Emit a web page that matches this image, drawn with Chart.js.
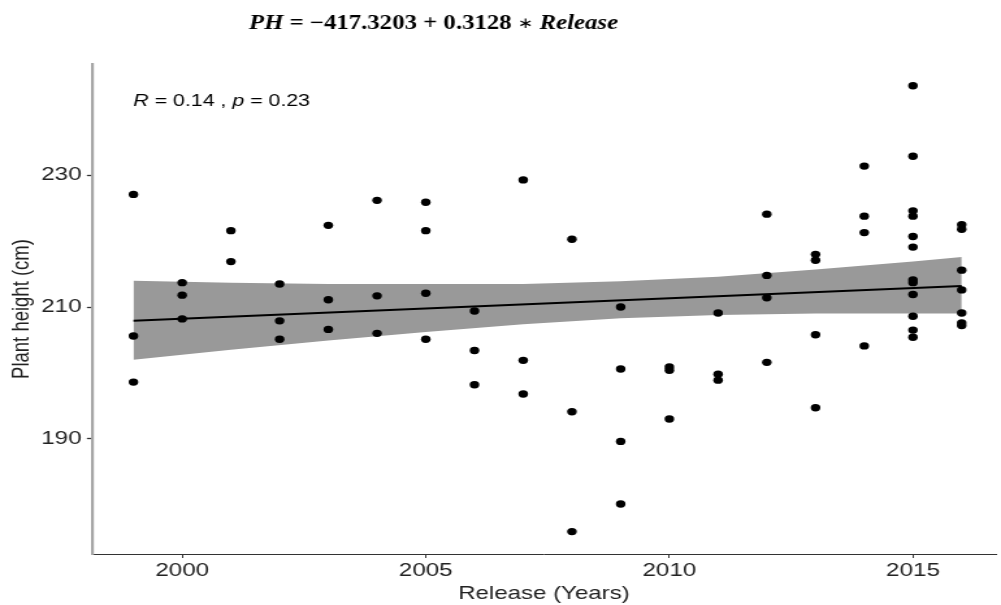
<!DOCTYPE html>
<html>
<head>
<meta charset="utf-8">
<script src="https://cdn.jsdelivr.net/npm/chart.js@4"></script>
<style>
html,body{margin:0;padding:0;background:#fff;overflow:hidden}
#c{display:block}
</style>
</head>
<body>
<canvas id="c" width="770" height="605" style="width:1001px;height:605px"></canvas>
<script>
// ---- data ----
const xTicks = [2000, 2005, 2010, 2015];
const yTicks = [190, 210, 230];

const releaseYears = [
  1999, 1999, 1999,
  2000, 2000, 2000,
  2001, 2001,
  2002, 2002, 2002,
  2003, 2003, 2003,
  2004, 2004, 2004,
  2005, 2005, 2005, 2005,
  2006, 2006, 2006,
  2007, 2007, 2007,
  2008, 2008, 2008,
  2009, 2009, 2009, 2009,
  2010, 2010, 2010,
  2011, 2011, 2011,
  2012, 2012, 2012, 2012,
  2013, 2013, 2013, 2013,
  2014, 2014, 2014, 2014,
  2015, 2015, 2015, 2015, 2015, 2015, 2015, 2015, 2015, 2015, 2015, 2015,
  2016, 2016, 2016, 2016, 2016, 2016, 2016
];
const plantHeights = [
  227.1, 205.6, 198.6,
  213.7, 211.8, 208.2,
  221.6, 216.9,
  213.5, 207.9, 205.1,
  222.4, 211.1, 206.6,
  226.2, 211.7, 206.0,
  225.9, 221.6, 212.1, 205.1,
  209.4, 203.4, 198.2,
  229.3, 201.9, 196.8,
  220.3, 194.1, 175.9,
  210.0, 200.6, 189.6, 180.1,
  200.9, 200.4, 193.0,
  209.1, 199.8, 198.9,
  224.1, 214.8, 211.4, 201.6,
  218.0, 217.1, 205.8, 194.7,
  231.4, 223.8, 221.3, 204.1,
  243.6, 232.9, 224.6, 223.8, 220.7, 219.1, 214.1, 213.7, 211.9, 208.6, 206.5, 205.4,
  222.5, 221.8, 215.6, 212.6, 209.1, 207.6, 207.2
];

const fitYears = [1999, 2016];
const fitHeights = [207.9, 213.2];

const bandYears = [1999, 2001, 2003, 2005, 2007, 2009, 2011, 2013, 2015, 2016];
const bandUpper = [214.0, 213.7, 213.5, 213.5, 213.5, 213.9, 214.6, 215.7, 216.9, 217.6];
const bandLower = [202.0, 203.5, 204.9, 206.2, 207.4, 208.3, 208.8, 209.0, 209.0, 209.0];

const equationRuns = [
  {text: 'PH', font: 'italic bold 20px "Liberation Serif"'},
  {text: ' = \u2212417.3203 + 0.3128 ', font: 'bold 20px "Liberation Serif"'},
  {text: '\u2217', font: '15px "DejaVu Sans"', dy: -1},
  {text: ' ', font: 'bold 20px "Liberation Serif"'},
  {text: 'Release', font: 'italic bold 20px "Liberation Serif"'}
];
const corRuns = [
  {text: 'R', font: 'italic 16px "Liberation Sans"'},
  {text: ' = 0.14 , ', font: '16px "Liberation Sans"'},
  {text: 'p', font: 'italic 16px "Liberation Sans"'},
  {text: ' = 0.23', font: '16px "Liberation Sans"'}
];

// ---- drawing ----
function drawRuns(ctx, runs, x, y, targetW) {
  ctx.save();
  ctx.textBaseline = 'alphabetic';
  ctx.textAlign = 'left';
  ctx.fillStyle = '#000';
  let w = 0;
  runs.forEach(r => { ctx.font = r.font; w += ctx.measureText(r.text).width; });
  ctx.translate(x, y);
  ctx.scale(targetW / w, 1);
  let cx = 0;
  runs.forEach(r => { ctx.font = r.font; ctx.fillText(r.text, cx, r.dy || 0); cx += ctx.measureText(r.text).width; });
  ctx.restore();
}

const textPlugin = {
  id: 'texts',
  afterDraw(chart) {
    const ctx = chart.ctx;
    drawRuns(ctx, equationRuns, 191.5, 29, 283.9);
    drawRuns(ctx, corRuns, 102.5, 105.7, 136);
  }
};

const pts = releaseYears.map((x, i) => ({x: x, y: plantHeights[i]}));
const fitPts = fitYears.map((x, i) => ({x: x, y: fitHeights[i]}));
const upPts = bandYears.map((x, i) => ({x: x, y: bandUpper[i]}));
const loPts = bandYears.map((x, i) => ({x: x, y: bandLower[i]}));

const tickFont = {family: '"Liberation Sans", Arial, sans-serif', size: 18.6};
const titleFont = {family: '"Liberation Sans", Arial, sans-serif', size: 18.5};

new Chart(document.getElementById('c'), {
  type: 'scatter',
  data: {
    datasets: [
      {
        type: 'scatter', data: pts, order: 0,
        pointRadius: 3.7, pointBackgroundColor: '#000', pointBorderWidth: 0,
        pointBorderColor: 'rgba(0,0,0,0)'
      },
      {
        type: 'line', data: fitPts, order: 1,
        borderColor: '#000', borderWidth: 2, pointRadius: 0, fill: false
      },
      {
        type: 'line', data: upPts, order: 2,
        borderColor: 'rgba(0,0,0,0)', borderWidth: 0, pointRadius: 0,
        backgroundColor: '#999999', fill: '+1'
      },
      {
        type: 'line', data: loPts, order: 3,
        borderColor: 'rgba(0,0,0,0)', borderWidth: 0, pointRadius: 0, fill: false
      }
    ]
  },
  options: {
    responsive: false,
    devicePixelRatio: 1,
    animation: false,
    events: [],
    layout: {padding: {top: 64, left: 0, right: 0, bottom: 0}},
    plugins: {legend: {display: false}, tooltip: {enabled: false}, title: {display: false}},
    scales: {
      x: {
        type: 'linear', min: 1998.15, max: 2016.70,
        afterBuildTicks: s => { s.ticks = xTicks.map(v => ({value: v})); },
        afterFit: s => { s.height = 51; },
        ticks: {font: tickFont, color: '#222', padding: 2, maxRotation: 0, autoSkip: false,
                callback: v => String(v)},
        grid: {drawOnChartArea: false, drawTicks: true, tickLength: 4, tickWidth: 1, tickColor: '#333'},
        border: {display: true, color: '#333', width: 1},
        title: {display: true, text: 'Release (Years)', font: titleFont, color: '#222', padding: {top: 0, bottom: 0}}
      },
      y: {
        type: 'linear', min: 172.5, max: 246.9,
        afterBuildTicks: s => { s.ticks = yTicks.map(v => ({value: v})); },
        afterFit: s => { s.width = 70.8; },
        ticks: {font: tickFont, color: '#222', padding: 4, autoSkip: false,
                callback: v => String(v)},
        grid: {drawOnChartArea: false, drawTicks: true, tickLength: 4, tickWidth: 1.3, tickColor: '#333'},
        border: {display: true, color: '#a6a6a6', width: 2.2},
        title: {display: true, text: 'Plant height (cm)', font: titleFont, color: '#222', padding: {top: 6, bottom: 0}}
      }
    }
  },
  plugins: [textPlugin]
});
</script>
</body>
</html>
